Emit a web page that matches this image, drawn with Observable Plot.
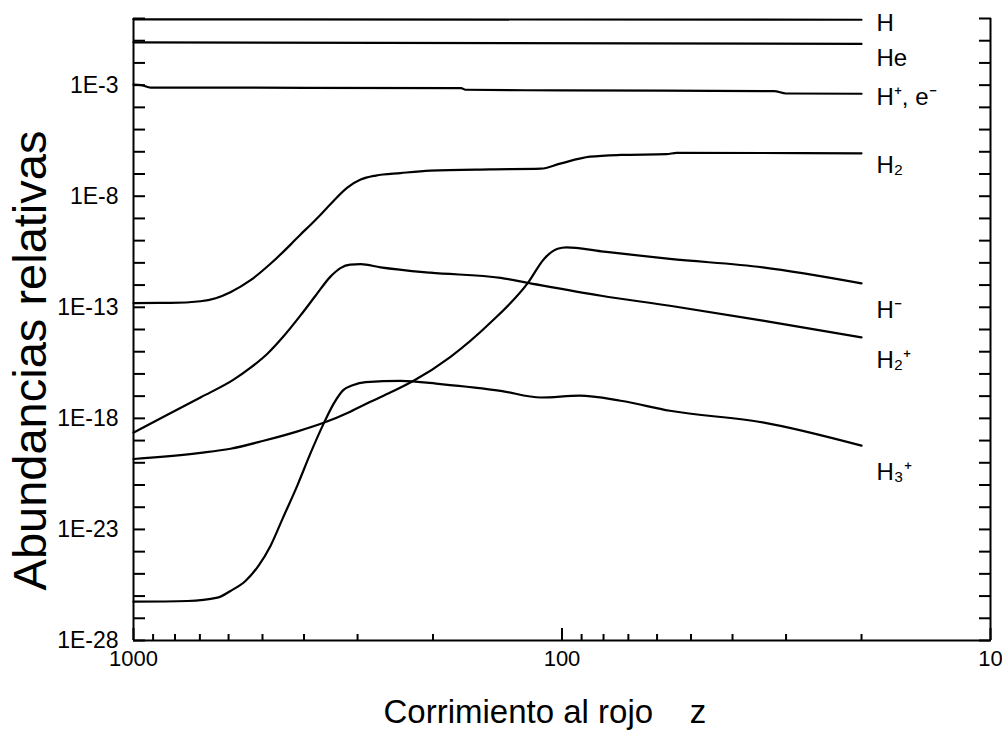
<!DOCTYPE html>
<html>
<head>
<meta charset="utf-8">
<script src="https://cdn.jsdelivr.net/npm/d3@7"></script>
<script src="https://cdn.jsdelivr.net/npm/@observablehq/plot@0.6"></script>
<style>
  html, body { margin: 0; padding: 0; background: #fff; }
</style>
</head>
<body>
<div id="chart"></div>
<script>
// ---- Data (redshift z, relative abundance) ----
const zH = [1000, 20];
const H = [0.92, 0.88];

const zHe = [1000, 20];
const He = [0.085, 0.072];

const zHplus = [1000, 960, 912, 172, 168, 100, 32, 30, 20];
const Hplus = [1.05e-3, 1.0e-3, 7.8e-4, 7.4e-4, 6.2e-4, 5.8e-4, 5.4e-4, 4.2e-4, 4.1e-4];

const zH2 = [1000, 820, 698, 643, 594, 533, 479, 430, 408, 386, 366, 341, 317, 295, 272, 238, 203, 147, 112, 101, 86, 73, 57, 54, 20];
const H2 = [1.55e-13, 1.58e-13, 1.87e-13, 2.57e-13, 4.8e-13, 1.66e-12, 9.1e-12, 6.6e-11, 1.86e-10, 5.2e-10, 1.48e-9, 6.3e-9, 2.45e-8, 5.6e-8, 8.5e-8, 1.1e-7, 1.41e-7, 1.62e-7, 1.74e-7, 2.95e-7, 6.0e-7, 7.2e-7, 7.8e-7, 9.0e-7, 8.5e-7];

const zHminus = [1000, 842, 698, 584, 533, 487, 447, 408, 376, 347, 329, 312, 295, 265, 203, 139, 121, 81, 56, 34, 20];
const Hminus = [2.3e-19, 1.3e-18, 8.7e-18, 5.5e-17, 1.9e-16, 8.1e-16, 4.8e-15, 4.2e-14, 3.3e-13, 2.4e-12, 5.8e-12, 8.3e-12, 8.7e-12, 6.3e-12, 3.6e-12, 2.1e-12, 1.29e-12, 3.3e-13, 1.17e-13, 2.5e-14, 4.4e-15];

const zH2plus = [1000, 698, 594, 497, 414, 360, 312, 280, 251, 223, 182, 147, 120, 110, 102.4, 97.6, 81, 56, 34, 20];
const H2plus = [1.48e-20, 2.8e-20, 4.3e-20, 9.8e-20, 2.6e-19, 6.3e-19, 2.0e-18, 5.6e-18, 1.5e-17, 4.7e-17, 5.9e-16, 2.0e-14, 1.29e-12, 1.55e-11, 4.3e-11, 5.0e-11, 3.3e-11, 1.5e-11, 6.3e-12, 1.2e-12];

const zH3plus = [1000, 748, 637, 594, 548, 511, 479, 449, 414, 386, 360, 341, 324, 308, 287, 238, 192, 139, 112, 91, 73, 56, 34, 20];
const H3plus = [5.6e-27, 6.0e-27, 8.5e-27, 1.7e-26, 4.8e-26, 2.3e-25, 1.8e-24, 3.0e-23, 1.02e-21, 2.8e-20, 5.8e-19, 4.6e-18, 1.86e-17, 3.1e-17, 4.3e-17, 4.9e-17, 3.5e-17, 1.74e-17, 8.7e-18, 1.05e-17, 6.2e-18, 2.2e-18, 6.6e-19, 5.9e-20];

// Curve labels (species name and the abundance level where each label sits, at the right end)
const labelNames = ["H", "He", "H\u207A, e\u207B", "H\u2082", "H\u207B", "H\u2082\u207A", "H\u2083\u207A"];
const labelAt = [0.63, 0.0166, 2.9e-4, 2.4e-7, 7e-14, 4e-16, 3.7e-21];
const labelZ = 20;

// Tick values
const yLabelTicks = [1e-3, 1e-8, 1e-13, 1e-18, 1e-23, 1e-28];
const yDecadeTicks = d3.range(0, -29, -1).map(e => +("1e" + e));
const xLabelTicks = [1000, 100, 10];
const xMinorTicks = [900, 800, 700, 600, 500, 400, 300, 200, 90, 80, 70, 60, 50, 40, 30, 20];

// ---- Build table ----
const series = [
  {name: "H", z: zH, v: H},
  {name: "He", z: zHe, v: He},
  {name: "H+", z: zHplus, v: Hplus},
  {name: "H2", z: zH2, v: H2},
  {name: "H-", z: zHminus, v: Hminus},
  {name: "H2+", z: zH2plus, v: H2plus},
  {name: "H3+", z: zH3plus, v: H3plus}
];
const rows = series.flatMap(s => s.z.map((z, i) => ({species: s.name, z, v: s.v[i]})));
const labels = labelNames.map((name, i) => ({name, z: labelZ, v: labelAt[i]}));

const font = "'Liberation Sans', Arial, Helvetica, sans-serif";

const chart = Plot.plot({
  width: 1002,
  height: 736,
  marginLeft: 133,
  marginRight: 12,
  marginTop: 18,
  marginBottom: 96,
  style: {fontFamily: font, color: "black", background: "white"},
  x: {type: "log", domain: [1000, 10]},
  y: {type: "log", domain: [1e-28, 1]},
  marks: [
    // frame: left, right and bottom sides (no top)
    Plot.ruleX(xLabelTicks.filter(d => d !== 100), {stroke: "black", strokeWidth: 2}),
    Plot.ruleY([1e-28], {stroke: "black", strokeWidth: 2}),
    // left axis inward decade ticks
    Plot.axisY(yDecadeTicks, {anchor: "left", tickSize: -12, strokeWidth: 2, fill: "none", label: null}),
    // left axis labels
    Plot.axisY(yLabelTicks, {anchor: "left", tickSize: 0, tickPadding: 15, fontSize: 23,
      tickFormat: d => "1E" + Math.round(Math.log10(d)), label: null}),
    // right axis inward ticks, no labels
    Plot.axisY(yDecadeTicks, {anchor: "right", tickSize: -12, strokeWidth: 2, fill: "none", label: null}),
    // bottom axis minor ticks
    Plot.axisX(xMinorTicks, {anchor: "bottom", tickSize: -6, strokeWidth: 2, fill: "none", label: null}),
    // bottom axis major ticks
    Plot.axisX(xLabelTicks, {anchor: "bottom", tickSize: -12, strokeWidth: 2, fill: "none", label: null}),
    // bottom axis labels
    Plot.axisX(xLabelTicks, {anchor: "bottom", tickSize: 0, tickPadding: 10, fontSize: 22,
      tickFormat: d => String(d), label: null}),
    // data curves
    Plot.line(rows, {x: "z", y: "v", z: "species", stroke: "black", strokeWidth: 2.2, curve: "monotone-x"}),
    // curve labels
    Plot.text(labels, {x: "z", y: "v", text: "name", dx: 15, textAnchor: "start", lineAnchor: "middle", fontSize: 24, fill: "black"}),
    // axis titles
    Plot.text(["Corrimiento al rojo\u00A0\u00A0\u00A0\u00A0z"], {frameAnchor: "bottom-left", dx: 250, dy: 72,
      textAnchor: "start", lineAnchor: "middle", fontSize: 33, fill: "black"}),
    Plot.text(["Abundancias relativas"], {frameAnchor: "left", rotate: -90, dx: -103, dy: 31,
      textAnchor: "middle", lineAnchor: "middle", fontSize: 47, fill: "black"})
  ]
});
document.getElementById("chart").appendChild(chart);
</script>
</body>
</html>
